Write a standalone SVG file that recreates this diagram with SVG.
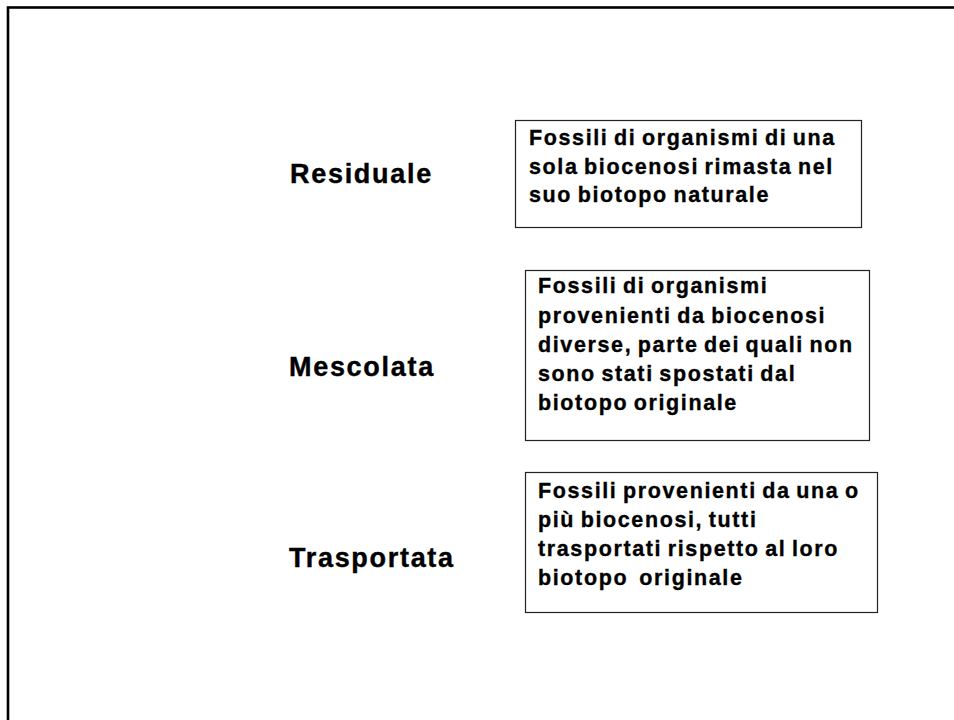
<svg xmlns="http://www.w3.org/2000/svg" width="954" height="720" viewBox="0 0 954 720">
<style>
.frame{fill:none;stroke:#000;stroke-width:2.6}
.box{fill:#fff;stroke:#222;stroke-width:1.2}
.lbl{font-family:"Liberation Sans",Arial,sans-serif;font-weight:bold;font-size:27px;letter-spacing:1.7px;fill:#000;stroke:#000;stroke-width:0.4}
.txt{font-family:"Liberation Sans",Arial,sans-serif;font-weight:bold;font-size:21.5px;letter-spacing:1.62px;word-spacing:-2px;fill:#000;stroke:#000;stroke-width:0.35}
</style>
<rect width="954" height="720" fill="#fff"/>
<rect class="frame" x="8" y="7.5" width="980" height="800"/>
<g id="connectors"></g>
<g id="residuale">
<text class="lbl" x="290" y="183">Residuale</text>
</g>
<g id="mescolata">
<text class="lbl" x="289" y="376">Mescolata</text>
</g>
<g id="trasportata">
<text class="lbl" x="289" y="567">Trasportata</text>
</g>
<g id="box-residuale">
<rect class="box" x="515.5" y="120.5" width="346" height="107"/>
<text class="txt" x="529"><tspan x="529" y="144.5">Fossili di organismi di una</tspan><tspan x="529" y="173.5">sola biocenosi rimasta nel</tspan><tspan x="529" y="202">suo biotopo naturale</tspan></text>
</g>
<g id="box-mescolata">
<rect class="box" x="525.5" y="270.5" width="344" height="170"/>
<text class="txt" x="538"><tspan x="538" y="293">Fossili di organismi</tspan><tspan x="538" y="322.5">provenienti da biocenosi</tspan><tspan x="538" y="352">diverse, parte dei quali non</tspan><tspan x="538" y="381">sono stati spostati dal</tspan><tspan x="538" y="410">biotopo originale</tspan></text>
</g>
<g id="box-trasportata">
<rect class="box" x="525.5" y="472.5" width="352" height="140"/>
<text class="txt" x="538" xml:space="preserve"><tspan x="538" y="498">Fossili provenienti da una o</tspan><tspan x="538" y="527">più biocenosi, tutti</tspan><tspan x="538" y="556">trasportati rispetto al loro</tspan><tspan x="538" y="585">biotopo  originale</tspan></text>
</g>
</svg>
